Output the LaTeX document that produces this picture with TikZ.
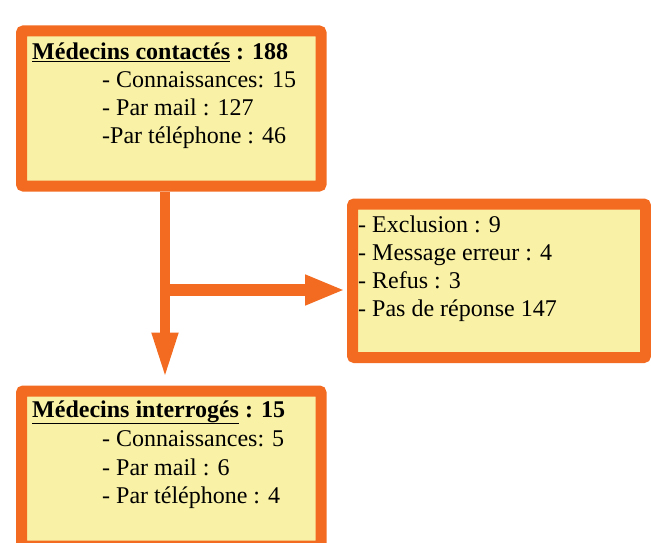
\documentclass[tikz,border=0pt]{standalone}
\usepackage{fontspec}
\setmainfont{Liberation Serif}
\newfontfamily\policecadre{Liberation Serif}
\usetikzlibrary{positioning, arrows.meta}
\definecolor{orangeb}{HTML}{F26B21}
\definecolor{jaune}{HTML}{F9F1A5}

\begin{document}
\begin{tikzpicture}[x=1pt, y=-1pt,
          boite/.style={draw=orangeb, fill=jaune, line width=11pt, rounded corners=2pt, minimum width=299.5pt, minimum height=155pt, inner sep=0pt},
          ligne/.style={anchor=base west, inner sep=0pt, font=\policecadre\fontsize{24}{28}\selectfont},
          fleche/.style={draw=orangeb, line width=10pt, -{Triangle[width=24pt, length=46pt]}}]
        \path[use as bounding box, clip] (0,0) rectangle (651,543);
        % les trois cadres
        \node[boite] (contact) at (171.25,108.5) {};
        \node[boite, minimum width=293pt, minimum height=153.5pt] (refus) at (499,280.75) {};
        \node[boite] (interro) at (171.25,468.5) {};
        % texte du premier cadre
        \node[ligne] (c0) at (32,60) {\textbf{\underline{Médecins contactés} : 188}};
        \node[ligne] (c1) at (102,88) {- Connaissances: 15};
        \node[ligne] (c2) at ([yshift=-27.5pt]c1.base west) {- Par mail : 127};
        \node[ligne] (c3) at ([yshift=-27.5pt]c2.base west) {-Par téléphone : 46};
        % texte du cadre de droite
        \node[ligne] (r1) at (358,232) {- Exclusion : 9};
        \node[ligne] (r2) at ([yshift=-28pt]r1.base west) {- Message erreur : 4};
        \node[ligne] (r3) at ([yshift=-28pt]r2.base west) {- Refus : 3};
        \node[ligne] (r4) at ([yshift=-28pt]r3.base west) {- Pas de réponse 147};
        % texte du dernier cadre
        \node[ligne] (i0) at (32,417) {\textbf{\underline{Médecins interrogés} : 15}};
        \node[ligne] (i1) at (102,446) {- Connaissances: 5};
        \node[ligne] (i2) at ([yshift=-29pt]i1.base west) {- Par mail : 6};
        \node[ligne] (i3) at ([yshift=-28pt]i2.base west) {- Par téléphone : 4};
        % fleches
        \coordinate (embr) at (165,290);
        \draw[fleche, shorten >=7pt] (contact.south -| embr) -- (interro.north -| embr);
        \draw[fleche, line width=12pt, -{Triangle[width=28pt, length=40pt]}, shorten >=2pt] (embr) -- (refus.west |- embr);
      \end{tikzpicture}
\end{document}
